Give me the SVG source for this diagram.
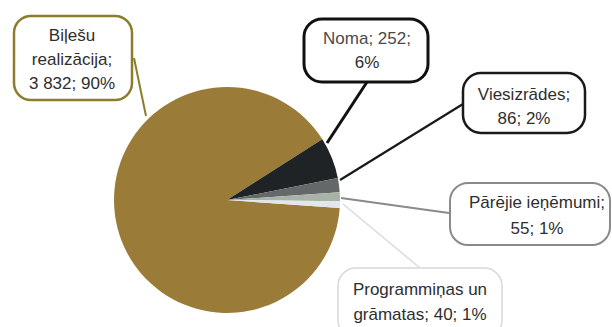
<svg xmlns="http://www.w3.org/2000/svg" width="612" height="327" viewBox="0 0 612 327">
<style>
text{font-family:"Liberation Sans",Arial,sans-serif;font-size:17px;fill:#2e2e2e;text-anchor:middle}
.box{fill:#fff}
</style>
<rect width="612" height="327" fill="#fff"/>
<g id="pie">
<path id="slice-bilesu" d="M227,200 L339.7,208.0 A113,113 0 1 1 322.3,139.3 Z" fill="#9b7b38"/>
<path id="slice-noma" d="M227,200 L322.3,139.3 A113,113 0 0 1 337.8,178.0 Z" fill="#1f2326"/>
<path id="slice-viesizrades" d="M227,200 L337.8,178.0 A113,113 0 0 1 339.7,192.2 Z" fill="#646868"/>
<path id="slice-parejie" d="M227,200 L339.7,192.2 A113,113 0 0 1 340.0,201.3 Z" fill="#a8b3a7"/>
<path id="slice-programminas" d="M227,200 L340.0,201.3 A113,113 0 0 1 339.7,208.0 Z" fill="#e1e7ed"/>
</g>
<g id="connectors" fill="none">
<line x1="134" y1="58" x2="146" y2="116" stroke="#8c7d2c" stroke-width="2"/>
<line x1="367" y1="82" x2="327" y2="143" stroke="#111" stroke-width="3"/>
<line x1="463" y1="104" x2="340" y2="180" stroke="#1a1a1a" stroke-width="2.2"/>
<line x1="449" y1="213" x2="341" y2="198" stroke="#8a8a8a" stroke-width="2"/>
<line x1="343" y1="204" x2="420" y2="268" stroke="#dcdcdc" stroke-width="1.5"/>
</g>
<g id="node-bilesu">
<rect class="box" x="14" y="16" width="118" height="84" rx="17" stroke="#8c7d2c" stroke-width="2.5"/>
<text x="72" y="41">Biļešu</text>
<text x="72" y="65">realizācija;</text>
<text x="72" y="89">3 832; 90%</text>
</g>
<g id="node-noma">
<rect class="box" x="304" y="19" width="124" height="63" rx="18" stroke="#111" stroke-width="3"/>
<text x="367" y="44" style="fill:#4a4a4a">Noma; 252;</text>
<text x="367" y="68">6%</text>
</g>
<g id="node-viesizrades">
<rect class="box" x="463" y="73" width="122" height="60" rx="18" stroke="#1a1a1a" stroke-width="2.5"/>
<text x="524" y="100">Viesizrādes;</text>
<text x="524" y="124">86; 2%</text>
</g>
<g id="node-parejie">
<rect class="box" x="450" y="183" width="160" height="62" rx="18" stroke="#8a8a8a" stroke-width="2"/>
<text x="537" y="208">Pārējie ieņēmumi;</text>
<text x="537" y="234">55; 1%</text>
</g>
<g id="node-programminas">
<rect class="box" x="338" y="268" width="164" height="70" rx="18" stroke="#d8d8d8" stroke-width="1.5"/>
<text x="420" y="295">Programmiņas un</text>
<text x="420" y="320">grāmatas; 40; 1%</text>
</g>
</svg>
